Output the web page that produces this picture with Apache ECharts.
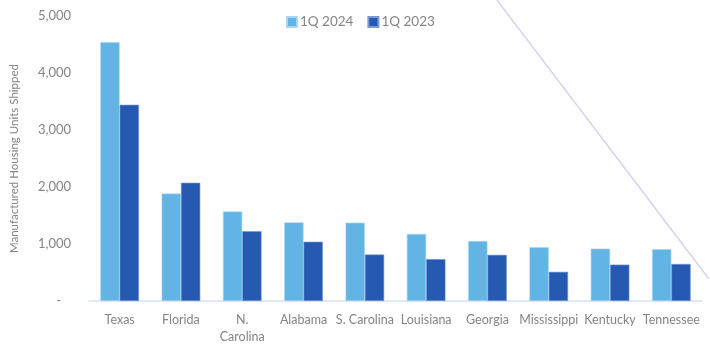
<!DOCTYPE html>
<html>
<head>
<meta charset="utf-8">
<style>
  html, body { margin: 0; padding: 0; background: #fff; }
  #chart { width: 710px; height: 345px; }
</style>
<script src="https://cdn.jsdelivr.net/npm/echarts@6/dist/echarts.min.js"></script>
</head>
<body>
<div id="chart"></div>
<script>
// Manufactured housing shipments by state, first quarter
const states = ['Texas', 'Florida', 'N.\nCarolina', 'Alabama', 'S. Carolina', 'Louisiana', 'Georgia', 'Mississippi', 'Kentucky', 'Tennessee'];
const shipped1Q2024 = [4540, 1885, 1570, 1379, 1374, 1178, 1052, 943, 919, 908];
const shipped1Q2023 = [3443, 2074, 1224, 1040, 816, 736, 810, 512, 638, 650];
const seriesNames = ['1Q 2024', '1Q 2023'];
const yTicks = [0, 1000, 2000, 3000, 4000, 5000];

const FONT = 'Lato';
const GREY = '#858585';

const chart = echarts.init(document.getElementById('chart'), null, { renderer: 'canvas' });

chart.setOption({
  animation: false,
  textStyle: { fontFamily: FONT },
  legend: {
    data: seriesNames,
    top: 10,
    left: 281,
    itemWidth: 10,
    itemHeight: 10,
    itemGap: 14,
    icon: 'rect',
    textStyle: { color: GREY, fontSize: 13.5, fontFamily: FONT, padding: [0, 0, 0, -2] }
  },
  grid: { left: 87, right: 8, top: 16, bottom: 39 },
  xAxis: {
    type: 'category',
    data: states,
    axisLine: { lineStyle: { color: '#d9e2f3', width: 1.5 } },
    axisTick: { show: false },
    axisLabel: { color: GREY, fontSize: 12.5, margin: 10, lineHeight: 17, interval: 0 }
  },
  yAxis: {
    type: 'value',
    min: yTicks[0],
    max: yTicks[yTicks.length - 1],
    interval: 1000,
    name: 'Manufactured Housing Units Shipped',
    nameLocation: 'middle',
    nameGap: 69,
    nameTextStyle: { color: GREY, fontSize: 11.5, fontFamily: FONT },
    axisLine: { show: false },
    axisTick: { show: false },
    splitLine: { show: false },
    axisLabel: {
      color: GREY,
      fontSize: 13,
      margin: 18,
      formatter: v => v === 0 ? '-   ' : v.toLocaleString('en-US')
    }
  },
  series: [
    {
      name: seriesNames[0],
      type: 'bar',
      data: shipped1Q2024,
      barGap: '0%',
      barCategoryGap: '37%',
      itemStyle: { color: '#62b4e4', borderColor: '#a9d6f2', borderWidth: 0.6 }
    },
    {
      name: seriesNames[1],
      type: 'bar',
      data: shipped1Q2023,
      itemStyle: { color: '#2559b2', borderColor: '#7a98d4', borderWidth: 0.6 }
    }
  ],
  graphic: [
    {
      type: 'line',
      silent: true,
      z: 0,
      shape: { x1: 497, y1: 0, x2: 709, y2: 279 },
      style: { stroke: '#d2d2f0', lineWidth: 1.4 }
    }
  ]
});
</script>
</body>
</html>
